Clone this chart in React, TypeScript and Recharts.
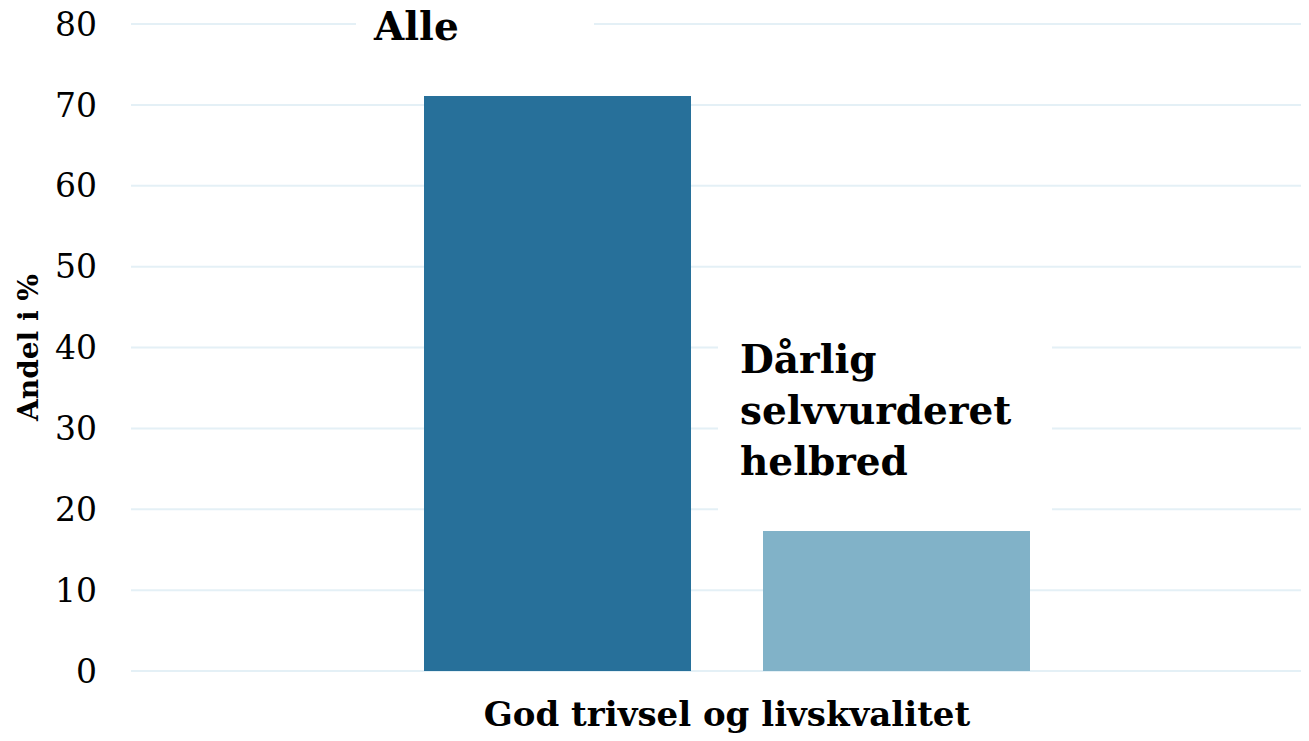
import { Bar, BarChart, CartesianGrid, LabelList, XAxis, YAxis } from "recharts";

const categories = ["God trivsel og livskvalitet"];
const seriesNames = ["Alle", "Dårlig selvvurderet helbred"];
const alleValues = [71.1];
const darligValues = [17.3];
const seriesLabelLines = [["Alle"], ["Dårlig", "selvvurderet", "helbred"]];
const yTicks = [0, 10, 20, 30, 40, 50, 60, 70, 80];

const colors = ["#27709a", "#81b2c8"];
const FONT = "'DejaVu Serif', Georgia, serif";

// label box placement relative to the bar's left edge
const labelBox = [
  { textDx: -50, padLeft: 18, boxWidth: 238 },
  { textDx: -23, padLeft: 22, boxWidth: 334 },
];

const data = categories.map((c, i) => ({
  name: c,
  alle: alleValues[i],
  darlig: darligValues[i],
}));

function makeLabel(idx: number) {
  return (props: any) => {
    const { x, y } = props;
    const lines = seriesLabelLines[idx];
    const cfg = labelBox[idx];
    const lineH = 51;
    const tx = Number(x) + cfg.textDx;
    const lastBase = Number(y) - 56;
    const firstBase = lastBase - lineH * (lines.length - 1);
    const boxTop = Math.max(0, firstBase - 60);
    const boxBottom = lastBase + 43;
    return (
      <g>
        <rect
          x={tx - cfg.padLeft}
          y={boxTop}
          width={cfg.boxWidth}
          height={boxBottom - boxTop}
          fill="#ffffff"
        />
        {lines.map((l, k) => (
          <text
            key={k}
            x={tx}
            y={firstBase + k * lineH}
            fontFamily={FONT}
            fontWeight="bold"
            fontSize={39}
            fill="#000"
          >
            {l}
          </text>
        ))}
      </g>
    );
  };
}

const YLabel = (props: any) => {
  const vb = props.viewBox || {};
  const cy = vb.y + vb.height / 2;
  return (
    <text
      x={28}
      y={cy}
      transform={`rotate(-90, 28, ${cy})`}
      textAnchor="middle"
      dominantBaseline="central"
      fontFamily={FONT}
      fontWeight="bold"
      fontSize={28}
      fill="#000"
    >
      Andel i %
    </text>
  );
};

export default function App() {
  return (
    <div style={{ width: 1309, height: 741, overflow: "hidden", margin: "-8px 0 0 -8px" }}>
      <BarChart
        width={1323}
        height={741}
        data={data}
        margin={{ top: 24, right: 0, left: 0, bottom: 0 }}
        barSize={267}
        barGap={72}
      >
        <CartesianGrid vertical={false} stroke="#e4f0f6" strokeWidth={2} />
        <XAxis
          dataKey="name"
          height={70}
          axisLine={false}
          tickLine={false}
          tickSize={0}
          tickMargin={31}
          tick={{ fontFamily: FONT, fontWeight: "bold", fontSize: 34, fill: "#000" }}
        />
        <YAxis
          width={131}
          domain={[0, 80]}
          ticks={yTicks}
          axisLine={false}
          tickLine={false}
          tickSize={0}
          tickMargin={34}
          tick={{ fontFamily: FONT, fontSize: 33, fill: "#000" }}
          label={<YLabel />}
        />
        <Bar dataKey="alle" name={seriesNames[0]} fill={colors[0]} isAnimationActive={false}>
          <LabelList dataKey="alle" content={makeLabel(0)} />
        </Bar>
        <Bar dataKey="darlig" name={seriesNames[1]} fill={colors[1]} isAnimationActive={false}>
          <LabelList dataKey="darlig" content={makeLabel(1)} />
        </Bar>
      </BarChart>
    </div>
  );
}
